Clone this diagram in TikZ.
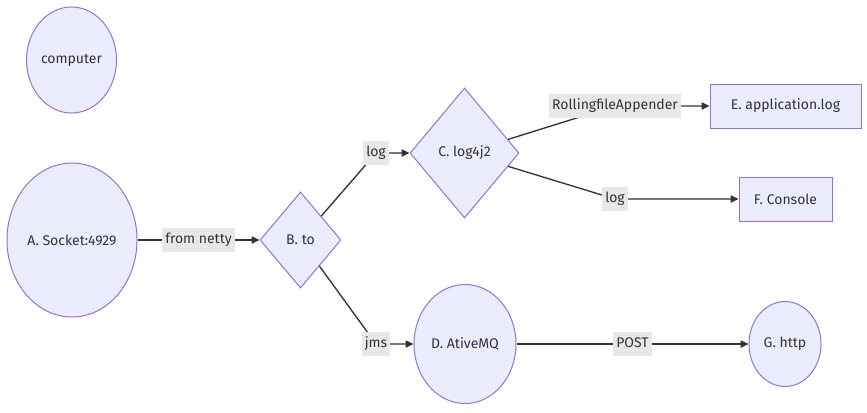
\documentclass[tikz,border=0pt]{standalone}
\usepackage{fontspec}
\setmainfont{Fira Sans}
\usetikzlibrary{shapes.geometric,arrows.meta}
\definecolor{nfill}{HTML}{ECECFF}
\definecolor{nline}{HTML}{9370DB}
\definecolor{etext}{HTML}{333333}
\definecolor{lbg}{HTML}{E8E8E8}
\tikzset{
  base/.style={draw=nline,fill=nfill,line width=0.75pt,text=etext,inner sep=0pt,font=\fontsize{10.5}{12}\selectfont},
  circ/.style={base,ellipse},
  dia/.style={base,diamond},
  box/.style={base,rectangle},
  elabel/.style={fill=lbg,text=etext,inner xsep=2.25pt,inner ysep=3.5pt,text height=8pt,text depth=2.5pt,font=\fontsize{10.5}{12}\selectfont},
  conn/.style={draw=etext,line width=1pt},
  arr/.style={conn,-{Triangle[length=6pt,width=5.5pt]}},
}
\begin{document}
\begin{tikzpicture}[x=0.75pt,y=-0.75pt]
\useasboundingbox (0,0) rectangle (867,412);
% nodes
\node[circ,minimum width=67.5pt,minimum height=79.5pt] (comp) at (71.5,60) {computer};
\node[circ,minimum width=97.5pt,minimum height=115.5pt] (A) at (72,240) {A. Socket:4929};
\node[dia,minimum width=60.75pt,minimum height=72pt] (B) at (300.5,240) {B. to};
\node[dia,minimum width=81.75pt,minimum height=97.5pt] (C) at (464.5,153) {C. log4j2};
\node[circ,minimum width=76.5pt,minimum height=89.25pt] (D) at (465,344) {D. AtiveMQ};
\node[box,minimum width=113.25pt,minimum height=33pt] (E) at (785.5,106) {E. application.log};
\node[box,minimum width=69.75pt,minimum height=33pt] (F) at (785.5,199) {F. Console};
\node[circ,minimum width=54pt,minimum height=63.75pt] (G) at (785,344) {G. http};
% bend points
\coordinate (kBC) at (376,153);
\coordinate (kBD) at (376,344);
\coordinate (kCE) at (615,106);
\coordinate (kCF) at (615,199);
% connectors
\draw[arr] (A) -- (B) node[midway,elabel] (lAB) {from netty};
\draw[arr] (B) -- (kBC) -- (C);
\draw[arr] (B) -- (kBD) -- (D);
\draw[arr] (C) -- (kCE) -- (E);
\draw[arr] (C) -- (kCF) -- (F.west |- kCF);
\draw[arr] (D) -- (G) node[pos=0.5,elabel] (lDG) {POST};
% labels
\node[elabel] (lBC) at (kBC) {log};
\node[elabel] (lBD) at (kBD) {jms};
\node[elabel] (lCE) at (kCE) {RollingfileAppender};
\node[elabel] (lCF) at (kCF) {log};
\end{tikzpicture}
\end{document}
